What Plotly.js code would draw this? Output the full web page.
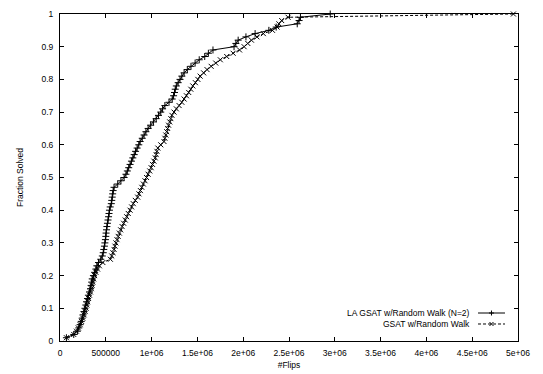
<!DOCTYPE html>
<html>
<head>
<meta charset="utf-8">
<script src="https://cdn.plot.ly/plotly-3.0.1.min.js"></script>
<style>
html,body{margin:0;padding:0;background:#fff;}
#chart{width:543px;height:374px;}
</style>
</head>
<body>
<div id="chart"></div>
<script>
// Fraction of instances solved (cumulative), shared by both series
var fraction = [0.01,0.02,0.03,0.04,0.05,0.06,0.07,0.08,0.09,0.10,
0.11,0.12,0.13,0.14,0.15,0.16,0.17,0.18,0.19,0.20,
0.21,0.22,0.23,0.24,0.25,0.26,0.27,0.28,0.29,0.30,
0.31,0.32,0.33,0.34,0.35,0.36,0.37,0.38,0.39,0.40,
0.41,0.42,0.43,0.44,0.45,0.46,0.47,0.48,0.49,0.50,
0.51,0.52,0.53,0.54,0.55,0.56,0.57,0.58,0.59,0.60,
0.61,0.62,0.63,0.64,0.65,0.66,0.67,0.68,0.69,0.70,
0.71,0.72,0.73,0.74,0.75,0.76,0.77,0.78,0.79,0.80,
0.81,0.82,0.83,0.84,0.85,0.86,0.87,0.88,0.89,0.90,
0.91,0.92,0.93,0.94,0.95,0.96,0.97,0.98,0.99,1.00];

// Number of flips for LA GSAT w/Random Walk (N=2)
var laGsatFlips = [70000,150000,190000,205000,220000,232000,243000,252000,262000,272000,
282000,290000,300000,310000,322000,334000,340000,346000,352000,365000,
378000,392000,402000,420000,445000,462000,472000,478000,485000,490000,
496000,500000,503000,508000,512000,518000,524000,530000,535000,540000,
548000,560000,565000,570000,575000,580000,590000,630000,665000,700000,
720000,735000,750000,765000,780000,795000,810000,825000,842000,860000,
875000,898000,918000,938000,962000,990000,1020000,1050000,1075000,1100000,
1120000,1145000,1190000,1225000,1240000,1250000,1258000,1270000,1290000,1310000,
1330000,1355000,1390000,1430000,1475000,1520000,1580000,1620000,1670000,1900000,
1920000,1945000,2030000,2130000,2280000,2360000,2590000,2610000,2625000,2950000];

// Number of flips for GSAT w/Random Walk
var gsatFlips = [70000,150000,180000,200000,220000,235000,248000,262000,275000,285000,
293000,302000,312000,322000,332000,342000,350000,358000,368000,378000,
392000,410000,430000,468000,550000,565000,578000,590000,600000,610000,
622000,635000,648000,662000,678000,695000,712000,728000,745000,765000,
782000,800000,822000,848000,862000,878000,893000,910000,928000,945000,
962000,980000,995000,1010000,1025000,1040000,1050000,1058000,1068000,1100000,
1135000,1145000,1155000,1165000,1175000,1185000,1198000,1210000,1222000,1245000,
1270000,1300000,1330000,1355000,1380000,1405000,1428000,1450000,1478000,1505000,
1530000,1568000,1605000,1650000,1700000,1750000,1820000,1890000,1960000,2010000,
2050000,2090000,2150000,2220000,2320000,2370000,2390000,2420000,2490000,4950000];

var seriesNames = ["LA GSAT w/Random Walk (N=2)", "GSAT w/Random Walk"];

var xTickVals = [0,500000,1000000,1500000,2000000,2500000,3000000,3500000,4000000,4500000,5000000];
var xTickText = ["0","500000","1e+06","1.5e+06","2e+06","2.5e+06","3e+06","3.5e+06","4e+06","4.5e+06","5e+06"];
var yTickVals = [0,0.1,0.2,0.3,0.4,0.5,0.6,0.7,0.8,0.9,1];
var yTickText = ["0","0.1","0.2","0.3","0.4","0.5","0.6","0.7","0.8","0.9","1"];

var FONT = "Liberation Sans, Arial, Helvetica, sans-serif";
var TXT = "#000";

var traces = [
  {
    x: laGsatFlips, y: fraction, name: seriesNames[0],
    type: "scatter", mode: "lines+markers", cliponaxis: false,
    line: {color: "#000", width: 1},
    marker: {symbol: "cross-thin-open", size: 5, line: {color: "#000", width: 1}},
    showlegend: false
  },
  {
    x: gsatFlips, y: fraction, name: seriesNames[1],
    type: "scatter", mode: "lines+markers", cliponaxis: false,
    line: {color: "#000", width: 1, dash: "3px,2px"},
    marker: {symbol: "x-thin-open", size: 5, line: {color: "#000", width: 1}},
    showlegend: false
  }
];

// legend drawn gnuplot-style: text right-aligned, sample to the right
var legRowY = [0.0856, 0.052];
var legTextX = 0.8996, legX0 = 0.9127, legX1 = 0.9716, legXc = 0.9421;

var shapes = [
  {type:"line", xref:"paper", yref:"paper", x0:legX0, x1:legX1, y0:legRowY[0], y1:legRowY[0], line:{color:"#000", width:1}},
  {type:"line", xref:"paper", yref:"paper", x0:legX0, x1:legX1, y0:legRowY[1], y1:legRowY[1], line:{color:"#000", width:1, dash:"3px,2px"}},
  {type:"line", xref:"paper", yref:"paper", xsizemode:"pixel", ysizemode:"pixel", xanchor:legXc, yanchor:legRowY[0], x0:-2.5, x1:2.5, y0:0, y1:0, line:{color:"#000", width:1}},
  {type:"line", xref:"paper", yref:"paper", xsizemode:"pixel", ysizemode:"pixel", xanchor:legXc, yanchor:legRowY[0], x0:0, x1:0, y0:-2.5, y1:2.5, line:{color:"#000", width:1}},
  {type:"line", xref:"paper", yref:"paper", xsizemode:"pixel", ysizemode:"pixel", xanchor:legXc, yanchor:legRowY[1], x0:-2, x1:2, y0:-2, y1:2, line:{color:"#000", width:1}},
  {type:"line", xref:"paper", yref:"paper", xsizemode:"pixel", ysizemode:"pixel", xanchor:legXc, yanchor:legRowY[1], x0:-2, x1:2, y0:2, y1:-2, line:{color:"#000", width:1}}
];

var annotations = [
  {xref:"paper", yref:"paper", x:legTextX, y:legRowY[0], xanchor:"right", yanchor:"middle", text:seriesNames[0], showarrow:false, font:{family:FONT, size:8.5, color:TXT}},
  {xref:"paper", yref:"paper", x:legTextX, y:legRowY[1], xanchor:"right", yanchor:"middle", text:seriesNames[1], showarrow:false, font:{family:FONT, size:8.5, color:TXT}}
];

var layout = {
  width: 543, height: 374,
  margin: {l: 60, r: 25, t: 14, b: 33, pad: 0},
  paper_bgcolor: "#fff", plot_bgcolor: "#fff",
  font: {family: FONT, size: 8.5, color: TXT},
  showlegend: false,
  xaxis: {
    range: [0, 5000000], tickvals: xTickVals, ticktext: xTickText,
    showgrid: false, zeroline: false, showline: true, linecolor: "#000", linewidth: 1,
    mirror: "ticks", ticks: "inside", ticklen: 4, tickcolor: "#000", tickwidth: 1,
    ticklabelstandoff: 4,
    tickfont: {family: FONT, size: 8.5, color: TXT},
    title: {text: "#Flips", font: {family: FONT, size: 8.5, color: TXT}, standoff: 4},
    automargin: false
  },
  yaxis: {
    range: [0, 1], tickvals: yTickVals, ticktext: yTickText,
    showgrid: false, zeroline: false, showline: true, linecolor: "#000", linewidth: 1,
    mirror: "ticks", ticks: "inside", ticklen: 4, tickcolor: "#000", tickwidth: 1,
    ticklabelstandoff: 4,
    tickfont: {family: FONT, size: 8.5, color: TXT},
    title: {text: "Fraction Solved", font: {family: FONT, size: 8.5, color: TXT}, standoff: 16},
    automargin: false
  },
  shapes: shapes,
  annotations: annotations
};

Plotly.newPlot("chart", traces, layout, {displayModeBar: false, staticPlot: true});
</script>
</body>
</html>
